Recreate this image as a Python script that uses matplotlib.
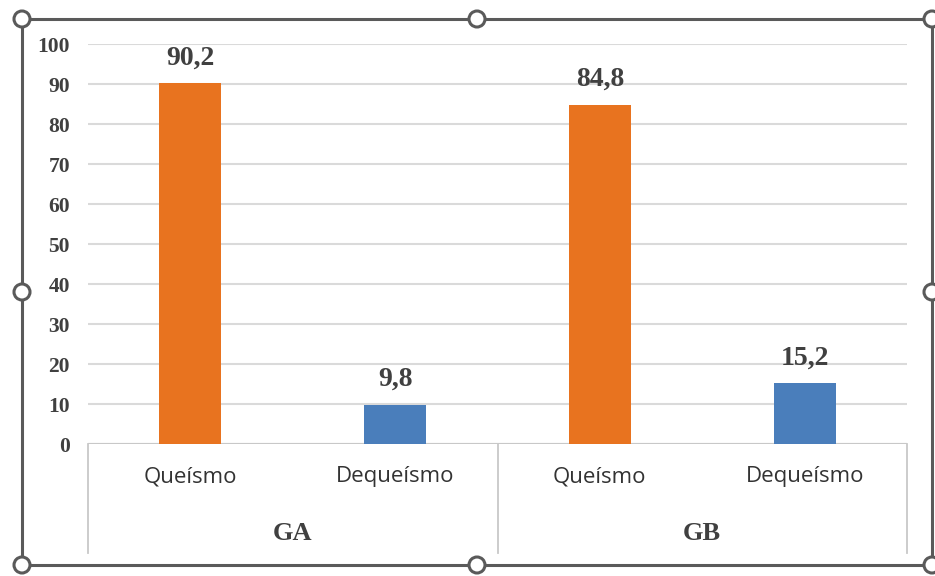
import matplotlib
matplotlib.use("Agg")
import matplotlib.pyplot as plt
import matplotlib.transforms as mtransforms
from matplotlib.patches import Circle
from matplotlib.lines import Line2D

# ---- data ----
categories = ["Queísmo", "Dequeísmo", "Queísmo", "Dequeísmo"]
groups = ["GA", "GB"]
values = [90.2, 9.8, 84.8, 15.2]
value_labels = ["90,2", "9,8", "84,8", "15,2"]
bar_colors = ["#E8731F", "#4A7EBB", "#E8731F", "#4A7EBB"]
yticks = list(range(0, 101, 10))

W, H = 935, 576
fig = plt.figure(figsize=(W / 100, H / 100), dpi=100)
fig.patch.set_facecolor("white")


def fx(px):
    return px / W


def fy(py):
    return 1 - py / H


SERIF = "Liberation Serif"
SANS = "Open Sans"
TXT = "#404040"

# ---- plot area ----
ax = fig.add_axes([fx(88), fy(444), fx(907) - fx(88), fy(44) - fy(444)])
xpos = list(range(len(values)))
ax.bar(xpos, values, width=62 / 204.75, color=bar_colors, zorder=3)
ax.set_xlim(-0.5, len(values) - 0.5)
ax.set_ylim(0, 100)
ax.set_yticks(yticks)
ax.yaxis.grid(True, color="#dadada", linewidth=1.5, zorder=0)
ax.set_axisbelow(True)
for s in ax.spines.values():
    s.set_visible(False)
ax.axhline(0, color="#c8c8c8", linewidth=1.5, zorder=2)

ax.tick_params(axis="y", length=0, pad=13, labelsize=15.5, labelcolor=TXT)
for lbl in ax.get_yticklabels():
    lbl.set_fontfamily(SERIF)
    lbl.set_fontweight("bold")

# category labels on a shared baseline
ax.set_xticks(xpos)
ax.set_xticklabels([])
ax.tick_params(axis="x", length=0)
blend = mtransforms.blended_transform_factory(ax.transData, fig.transFigure)
for xi, cat in zip(xpos, categories):
    ax.text(xi, fy(482), cat, transform=blend, ha="center", va="baseline",
            fontfamily=SANS, fontsize=16, color="#333333")

# value labels above bars
for xi, v, lab in zip(xpos, values, value_labels):
    ax.annotate(lab, xy=(xi, v), xytext=(0, 13.5), textcoords="offset points",
                ha="center", va="baseline", fontfamily=SERIF,
                fontweight="bold", fontsize=20, color=TXT)

# group labels and separators under the categories
for gi, g in enumerate(groups):
    ax.text(gi * 2 + 0.5, fy(533), g, transform=blend, ha="center",
            va="center", fontfamily=SERIF, fontweight="bold", fontsize=19,
            color=TXT)
for xs in [-0.5, 1.5, 3.5]:
    ax.add_line(Line2D([xs, xs], [fy(444), fy(553)], transform=blend,
                       color="#c8c8c8", linewidth=1.3, clip_on=False))

# ---- selection frame with handles ----
ov = fig.add_axes([0, 0, 1, 1], zorder=10)
ov.set_xlim(0, W)
ov.set_ylim(H, 0)
ov.axis("off")
ov.patch.set_alpha(0)
L, R, T, B = 22, 932, 19, 565
FRAME = "#5a5a5a"
ov.plot([L, R, R, L, L], [T, T, B, B, T], color=FRAME, linewidth=2.2,
        solid_joinstyle="miter")
mid_x = (L + R) / 2
mid_y = (T + B) / 2
for hx, hy in [(L, T), (mid_x, T), (R, T), (L, mid_y), (R, mid_y),
               (L, B), (mid_x, B), (R, B)]:
    ov.add_patch(Circle((hx, hy), 8, facecolor="white", edgecolor=FRAME,
                        linewidth=2.2, zorder=5))

fig.savefig("out.png", dpi=100, facecolor="white")
